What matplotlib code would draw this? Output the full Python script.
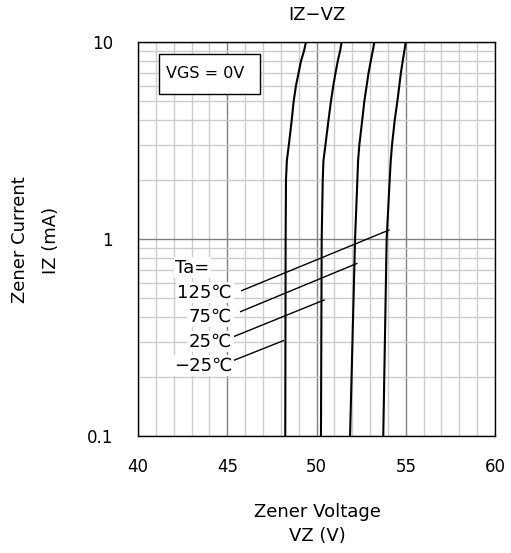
import matplotlib.pyplot as plt
import numpy as np
from matplotlib.patches import Rectangle
from matplotlib.ticker import FixedLocator, NullFormatter

plt.rcParams['font.family'] = ['DejaVu Sans', 'Noto Sans CJK JP']

# curves: (VZ [V], IZ [mA]) per temperature
iz_points = [0.1, 1, 2, 2.5, 3, 4, 5, 6, 7, 8, 9, 10]
vz_m25 = [48.25, 48.27, 48.29, 48.34, 48.45, 48.61, 48.72, 48.85, 49.00, 49.13, 49.30, 49.41]
vz_25 = [50.25, 50.29, 50.35, 50.39, 50.50, 50.67, 50.81, 50.94, 51.07, 51.19, 51.32, 51.41]
vz_75 = [51.88, 52.16, 52.29, 52.33, 52.40, 52.56, 52.68, 52.81, 52.92, 53.04, 53.15, 53.24]
vz_125 = [53.74, 53.93, 54.10, 54.16, 54.23, 54.38, 54.53, 54.64, 54.73, 54.83, 54.92, 55.00]

temp_labels = ['125℃', '75℃', '25℃', '−25℃']
# leader lines: label end -> curve point
lead_start = [(45.81, 0.547), (45.75, 0.428), (45.34, 0.319), (45.16, 0.238)]
lead_end = [(54.06, 1.11), (52.26, 0.751), (50.42, 0.49), (48.15, 0.305)]

fig = plt.figure(figsize=(5.11, 5.53), dpi=100)
ax = fig.add_axes([138/511, 1 - 436/553, (495 - 138)/511, (436 - 42)/553])

for vz in [vz_m25, vz_25, vz_75, vz_125]:
    ax.plot(vz, iz_points, color='black', lw=1.5, zorder=3)

ax.set_yscale('log')
ax.set_xlim(40, 60)
ax.set_ylim(0.1, 10)

ax.set_xticks([40, 45, 50, 55, 60])
ax.xaxis.set_minor_locator(FixedLocator(np.arange(40, 61, 1)))
ax.set_yticks([0.1, 1, 10])
ax.set_yticklabels(['0.1', '1', '10'])
ax.yaxis.set_minor_locator(FixedLocator([a * b for b in (0.1, 1) for a in range(2, 10)]))
ax.yaxis.set_minor_formatter(NullFormatter())

ax.grid(which='minor', color='#cccccc', lw=1.0, zorder=0)
ax.grid(which='major', color='#808080', lw=1.0, zorder=0)
ax.tick_params(which='both', length=0, labelsize=12)
ax.tick_params(axis='x', pad=16)
ax.tick_params(axis='y', pad=18)
for s in ax.spines.values():
    s.set_linewidth(1.0)
    s.set_color('black')
ax.set_axisbelow(True)

for (x0, y0), (x1, y1) in zip(lead_start, lead_end):
    ax.plot([x0, x1], [y0, y1], color='black', lw=1.0, zorder=3)

lbl_y = [0.506, 0.38, 0.284, 0.215]
bbox = dict(facecolor='white', edgecolor='none', pad=1)
ax.text(42.07, 0.674, 'Ta=', fontsize=13, ha='left', va='baseline', bbox=bbox, zorder=4)
for t, y in zip(temp_labels, lbl_y):
    ax.text(45.27, y, t, fontsize=13, ha='right', va='baseline', bbox=bbox, zorder=4)

ax.add_patch(Rectangle((41.2, 5.45), 46.83 - 41.2, 8.66 - 5.45, facecolor='white',
                       edgecolor='black', lw=1.0, zorder=5))
ax.text(41.57, 6.88, 'VGS = 0V', fontsize=11.5, ha='left', va='center', zorder=6)

fig.text(317/511, 1 - 15/553, 'IZ−VZ', ha='center', va='center', fontsize=13)
fig.text(317/511, 1 - 512/553, 'Zener Voltage', ha='center', va='center', fontsize=13)
fig.text(317/511, 1 - 536/553, 'VZ (V)', ha='center', va='center', fontsize=13)
fig.text(20/511, 1 - 240/553, 'Zener Current', ha='center', va='center', fontsize=13, rotation=90)
fig.text(51/511, 1 - 240/553, 'IZ (mA)', ha='center', va='center', fontsize=13, rotation=90)

fig.savefig('out.png', dpi=100)
